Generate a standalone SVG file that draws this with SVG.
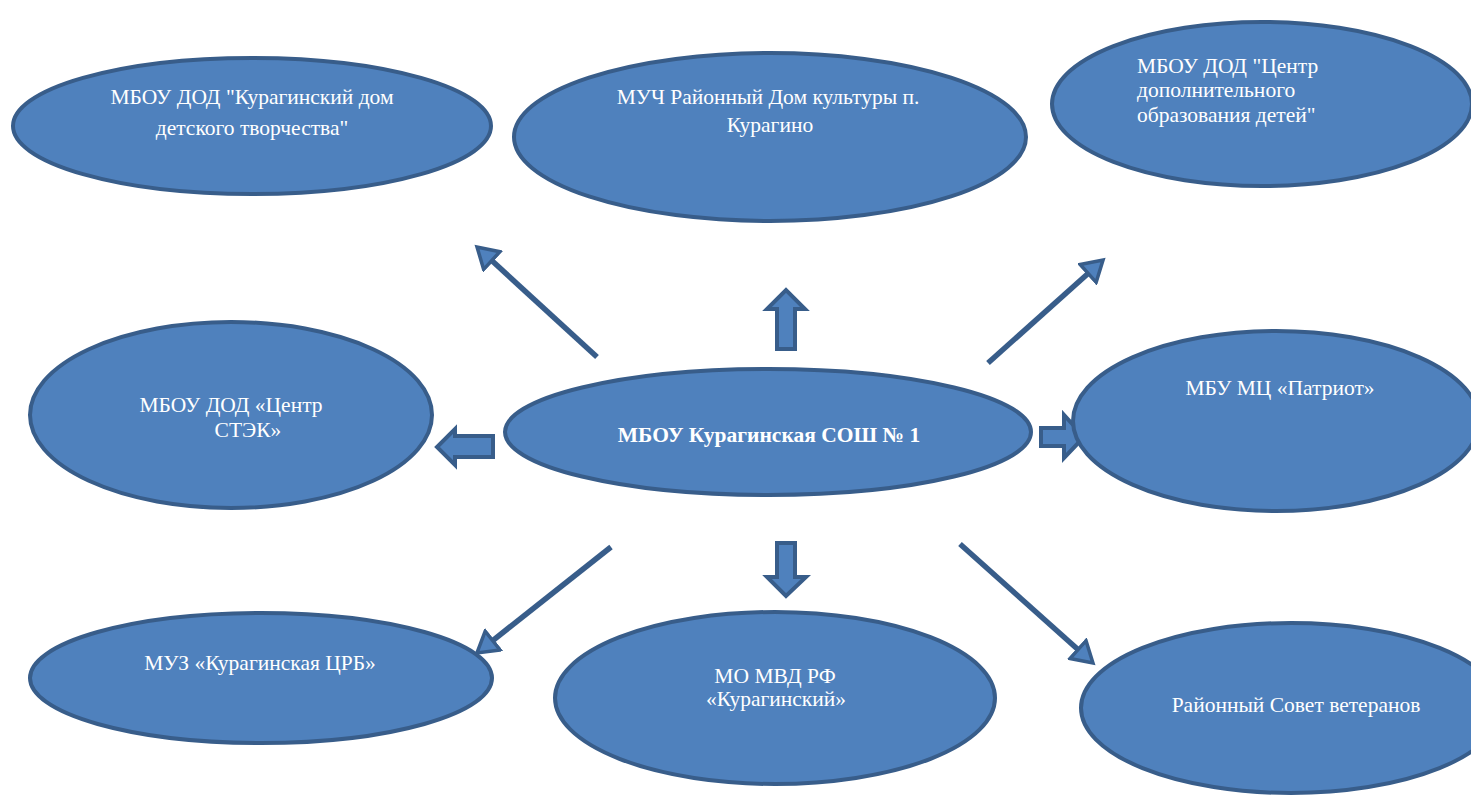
<svg xmlns="http://www.w3.org/2000/svg" width="1471" height="804" viewBox="0 0 1471 804">
<style>
.n{fill:#4f81bd;stroke:#385d8a;stroke-width:4}
.t{font-family:"Liberation Serif","Times New Roman",serif;font-size:21.5px;fill:#ffffff;text-anchor:middle}
.tl{text-anchor:start}
.b{font-weight:bold}
.ln{stroke:#385d8a;stroke-width:5.5;fill:none;marker-end:url(#ah)}
.blk{fill:#4f81bd;stroke:#385d8a;stroke-width:4;stroke-linejoin:miter}
</style>
<defs>
<marker id="ah" markerUnits="userSpaceOnUse" markerWidth="26" markerHeight="28" refX="10" refY="12" orient="auto" viewBox="-2 -2 26 28">
<path d="M0,0 L20,12 L0,24 Z" fill="#4f81bd" stroke="#385d8a" stroke-width="3.5" stroke-linejoin="miter"/>
</marker>
</defs>
<rect width="1471" height="804" fill="#ffffff"/>
<g id="connectors">
<line class="ln" x1="597" y1="357" x2="484.4" y2="253.8"/>
<line class="ln" x1="988" y1="363" x2="1095.6" y2="266.7"/>
<line class="ln" x1="611" y1="547" x2="484.8" y2="646.8"/>
<line class="ln" x1="960" y1="544" x2="1085.5" y2="656.3"/>
<path class="blk" d="M777,349 L777,309 L767,309 L786,290 L805,309 L795,309 L795,349 Z"/>
<path class="blk" d="M493,436 L455,436 L455,429 L437,447 L455,465 L455,457 L493,457 Z"/>
<path class="blk" d="M1041,428 L1064,428 L1064,415 L1084,437 L1064,458 L1064,446 L1041,446 Z"/>
<path class="blk" d="M777,543 L777,577 L767,577 L786,596 L806,577 L795,577 L795,543 Z"/>
</g>
<g id="node-ddt">
<ellipse class="n" cx="252" cy="126" rx="239" ry="68"/>
<text class="t" x="252" y="104">МБОУ ДОД "Курагинский дом</text>
<text class="t" x="252" y="135">детского творчества"</text>
</g>
<g id="node-rdk">
<ellipse class="n" cx="770" cy="137" rx="256" ry="84"/>
<text class="t" x="768" y="104">МУЧ Районный Дом культуры п.</text>
<text class="t" x="770" y="132">Курагино</text>
</g>
<g id="node-cdod">
<ellipse class="n" cx="1262" cy="104" rx="210" ry="82"/>
<text class="t tl" x="1137" y="73">МБОУ ДОД "Центр</text>
<text class="t tl" x="1137" y="97">дополнительного</text>
<text class="t tl" x="1137" y="122">образования детей"</text>
</g>
<g id="node-stek">
<ellipse class="n" cx="231" cy="415" rx="201" ry="93"/>
<text class="t" x="231" y="412">МБОУ ДОД «Центр</text>
<text class="t" x="248" y="437">СТЭК»</text>
</g>
<g id="node-main">
<ellipse class="n" cx="768" cy="432" rx="263" ry="63"/>
<text class="t b" x="769" y="442">МБОУ Курагинская СОШ № 1</text>
</g>
<g id="node-patriot">
<ellipse class="n" cx="1276" cy="421" rx="203" ry="90"/>
<text class="t" x="1280" y="395">МБУ МЦ «Патриот»</text>
</g>
<g id="node-crb">
<ellipse class="n" cx="261" cy="678" rx="231" ry="65"/>
<text class="t" x="260" y="670">МУЗ «Курагинская ЦРБ»</text>
</g>
<g id="node-mvd">
<ellipse class="n" cx="775" cy="698" rx="220" ry="86"/>
<text class="t" x="775" y="683">МО МВД РФ</text>
<text class="t" x="776" y="706">«Курагинский»</text>
</g>
<g id="node-veterans">
<ellipse class="n" cx="1291" cy="708" rx="210" ry="85"/>
<text class="t" x="1296" y="712">Районный Совет ветеранов</text>
</g>
</svg>
